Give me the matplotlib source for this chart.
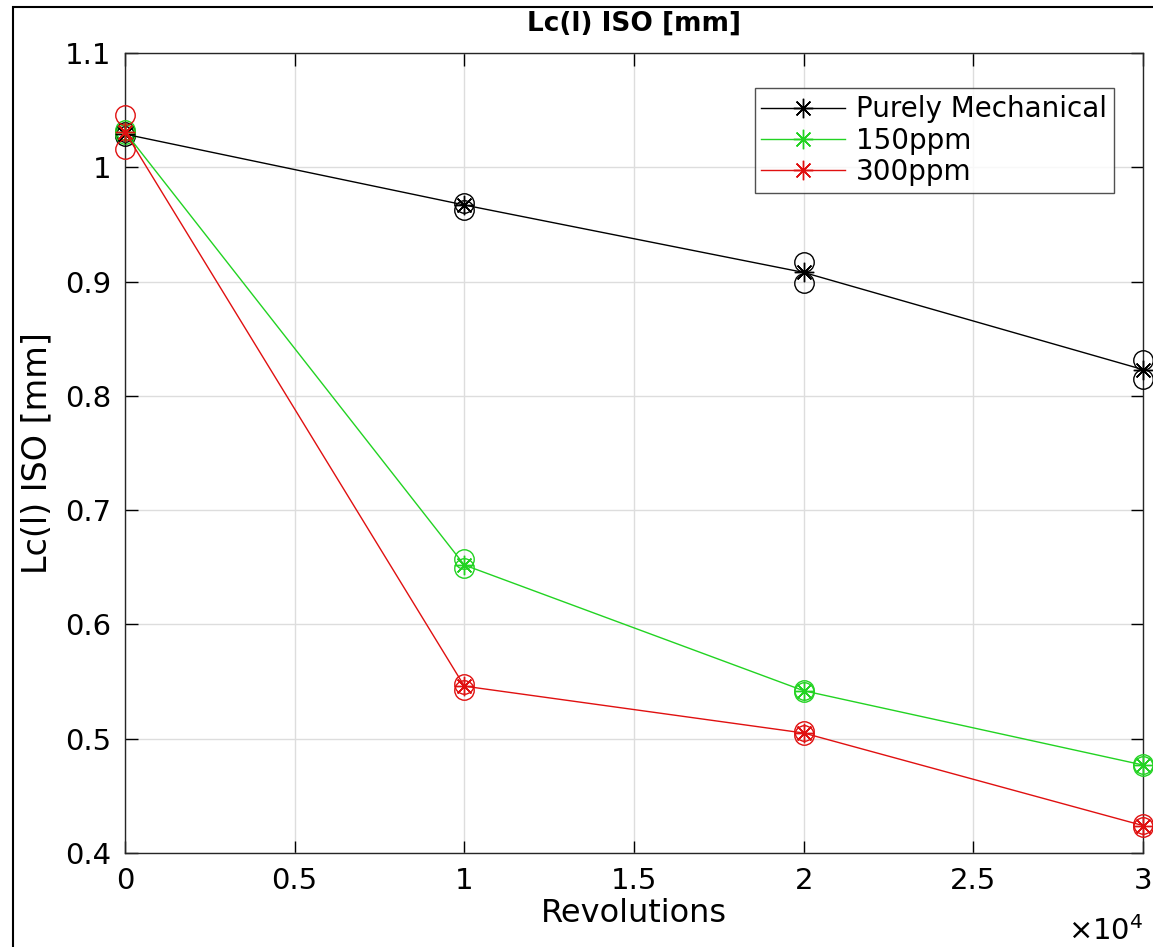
import numpy as np
import matplotlib
matplotlib.use('Agg')
import matplotlib.pyplot as plt
from matplotlib.ticker import MultipleLocator
from matplotlib.patches import Rectangle

#%% Data
revs = [0, 10000, 20000, 30000]
series = ['Purely Mechanical', '150ppm', '300ppm']
colors = ['black', '#22d322', '#e01010']

mean_mech = [1.029, 0.967, 0.908, 0.823]
mean_150 = [1.031, 0.652, 0.542, 0.477]
mean_300 = [1.031, 0.546, 0.505, 0.424]

# individual measurements (two per point)
samp_mech = [[1.031, 1.027], [0.969, 0.963], [0.917, 0.899], [0.831, 0.815]]
samp_150 = [[1.033, 1.029], [0.657, 0.649], [0.543, 0.541], [0.478, 0.476]]
samp_300 = [[1.046, 1.016], [0.548, 0.543], [0.507, 0.503], [0.425, 0.423]]

means = [mean_mech, mean_150, mean_300]
samples = [samp_mech, samp_150, samp_300]

#%% Plot
plt.rcParams['font.family'] = ['DejaVu Sans']
fig = plt.figure(figsize=(11.53, 9.47), dpi=100)
ax = fig.add_axes([125/1153, 94/947, 1018/1153, 800/947])

star = (8, 2, 0)  # matlab-like asterisk
for name, col, m, s in zip(series, colors, means, samples):
    for x, pair in zip(revs, s):
        ax.plot([x]*len(pair), pair, 'o', ms=14, mfc='none', mec=col, mew=1.0,
                clip_on=False, zorder=3)
    ax.plot(revs, m, '-', marker=star, color=col, lw=1.0, ms=14, mew=1.0,
            label=name, clip_on=False, zorder=4)

ax.set_xlim(0, 30000)
ax.set_ylim(0.4, 1.1)
ax.xaxis.set_major_locator(MultipleLocator(5000))
ax.yaxis.set_major_locator(MultipleLocator(0.1))
ax.xaxis.set_major_formatter(plt.FuncFormatter(lambda v, p: '%g' % round(v/1e4, 2)))
ax.yaxis.set_major_formatter(plt.FuncFormatter(lambda v, p: '%g' % round(v, 2)))
ax.text(1.0, -0.098, r'$\times\mathregular{10^{4}}$', transform=ax.transAxes,
        ha='right', va='center', fontsize=21)

ax.grid(True, color='#dddddd', lw=1.0)
ax.set_axisbelow(True)
ax.tick_params(direction='in', length=9, width=1, labelsize=21, top=True, right=True, pad=10)
for sp in ax.spines.values():
    sp.set_linewidth(1.0)
    sp.set_color('#262626')

ax.set_xlabel('Revolutions', fontsize=23, labelpad=2)
ax.set_ylabel('Lc(l) ISO [mm]', fontsize=24, labelpad=8)
ax.set_title('Lc(l) ISO [mm]', fontsize=19, fontweight='bold', pad=16)

leg = ax.legend(loc='upper right', fontsize=20, frameon=True, fancybox=False,
                edgecolor='#262626', handlelength=3.0, handletextpad=0.4,
                labelspacing=0.12, borderpad=0.25, bbox_to_anchor=(0.985, 0.973))
leg.get_frame().set_linewidth(1.0)

# outer frame of the screenshot
fig.patches.append(Rectangle((13/1153, -0.5), 2, 1.5 - 7/947, transform=fig.transFigure,
                             fill=False, ec='black', lw=1.5))

fig.savefig('out.png', dpi=100)
